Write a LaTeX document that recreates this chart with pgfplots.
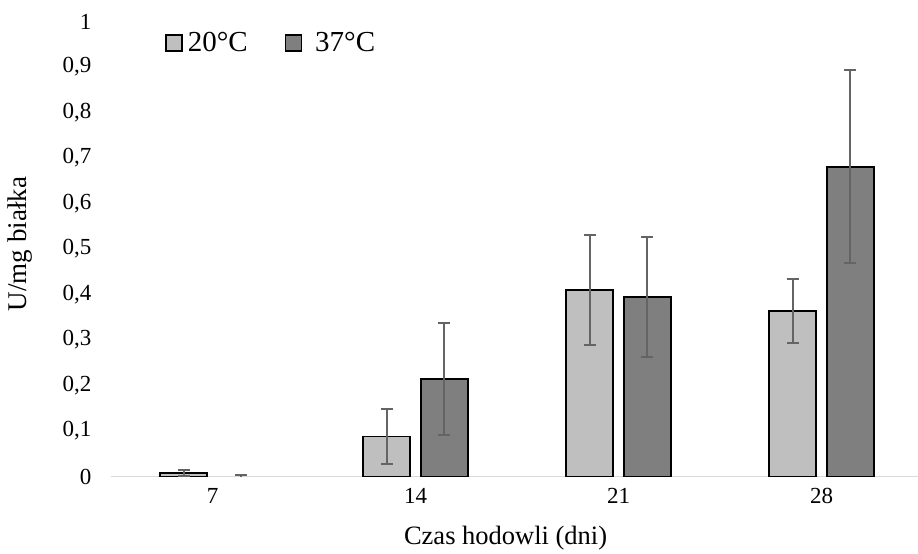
\documentclass[border=0pt]{standalone}
\usepackage{pgfplots}
\pgfplotsset{compat=1.18}
\usepackage{fontspec}
\setmainfont{Liberation Serif}
\definecolor{lightbar}{RGB}{191,191,191}
\definecolor{darkbar}{RGB}{127,127,127}
\definecolor{errc}{RGB}{100,100,100}
\definecolor{axisgray}{RGB}{217,217,217}
\begin{document}
\begin{tikzpicture}
\begin{axis}[
  name=ax,
  scale only axis,
  width=807bp, height=455bp,
  xmin=-0.5, xmax=3.475,
  ymin=0, ymax=1,
  axis y line*=left,
  axis x line*=bottom,
  x axis line style={draw=axisgray, line width=1.5bp, -},
  y axis line style={draw=none},
  xtick={0,1,2,3},
  xticklabels={7,14,21,28},
  ytick={0,0.1,...,1},
  major tick length=0pt,
  tick style={draw=none},
  /pgf/number format/.cd, use comma, fixed, precision=1, assume math mode=true,
  /pgfplots/.cd,
  ticklabel style={font=\fontsize{23bp}{27bp}\selectfont, text=black},
  yticklabel style={anchor=east, xshift=-16bp},
  xticklabel style={anchor=center, yshift=-19bp},
  xlabel={Czas hodowli (dni)},
  xlabel style={at={(axis description cs:0.489,0)}, anchor=center, yshift=-61.5bp, font=\fontsize{26.5bp}{30bp}\selectfont},
  ylabel={U/mg białka},
  ylabel style={at={(axis description cs:-0.1128,0.511)}, anchor=center, font=\fontsize{27bp}{30bp}\selectfont},
  legend columns=2,
  legend style={draw=none, fill=none, at={(0.067,0.953)}, anchor=west,
    font=\fontsize{29bp}{32bp}\selectfont,
    nodes={inner sep=0pt},
    /tikz/every odd column/.append style={column sep=5bp},
    /tikz/every even column/.append style={column sep=37bp},
    inner sep=0pt},
  legend image code/.code={\draw[#1, line width=1.5bp] (0bp,-8bp) rectangle (16bp,8bp);},
  clip=false,
  every axis plot/.append style={
    error bars/error bar style={draw=errc, line width=1.8bp},
    error bars/error mark options={rotate=90, mark size=6bp, draw=errc, line width=1.8bp}},
]
\addplot[ybar, bar width=0.231, bar shift=0, fill=lightbar, draw=black, line width=1.8bp,
  error bars/.cd, y dir=both, y explicit]
  table[x=x, y=y, y error=e] {
x y e
-0.1416 0.008 0.007
0.8584 0.088 0.061
1.8584 0.410 0.121
2.8584 0.364 0.070
};
\addlegendentry{20°C}
\addplot[ybar, bar width=0.231, bar shift=0, fill=darkbar, draw=black, line width=1.8bp,
  error bars/.cd, y dir=both, y explicit]
  table[x=x, y=y, y error=e] {
x y e
1.1416 0.214 0.123
2.1416 0.395 0.132
3.1416 0.681 0.212
};
\addlegendentry{\hspace{8bp}37°C}
% 37°C at day 7: value 0, only the upper cap of its error bar is visible
\addplot[forget plot, draw=none, mark=none,
  error bars/.cd, y dir=plus, y explicit]
  table[x=x, y=y, y error=e] {
x y e
0.1416 0.000 0.004
};
\end{axis}
\pgfresetboundingbox
\path (ax.south west) ++(-111bp,-77.5bp) rectangle ++(918bp,554bp);
\end{tikzpicture}
\end{document}
